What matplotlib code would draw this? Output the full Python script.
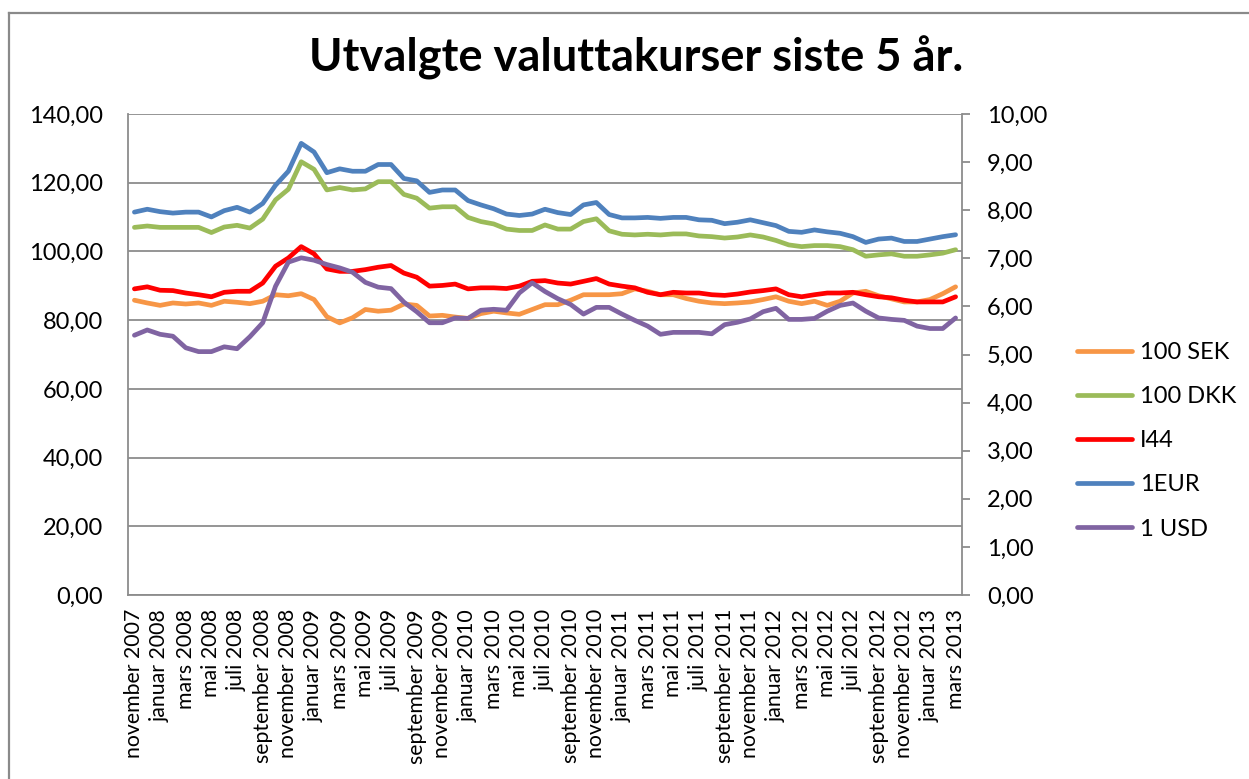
import matplotlib
matplotlib.use("Agg")
import matplotlib.pyplot as plt
from matplotlib.lines import Line2D
import numpy as np

plt.rcParams['font.family'] = ['Lato', 'DejaVu Sans']

tick_labels = ["november 2007", "januar 2008", "mars 2008", "mai 2008", "juli 2008",
               "september 2008", "november 2008", "januar 2009", "mars 2009", "mai 2009",
               "juli 2009", "september 2009", "november 2009", "januar 2010", "mars 2010",
               "mai 2010", "juli 2010", "september 2010", "november 2010", "januar 2011",
               "mars 2011", "mai 2011", "juli 2011", "september 2011", "november 2011",
               "januar 2012", "mars 2012", "mai 2012", "juli 2012", "september 2012",
               "november 2012", "januar 2013", "mars 2013"]

sek = [85.8, 85.0, 84.3, 85.0, 84.7, 85.0, 84.3, 85.5, 85.2, 84.8,
       85.5, 87.4, 87.1, 87.7, 86.0, 81.0, 79.2, 80.7, 83.1, 82.6,
       82.9, 84.7, 84.3, 81.2, 81.4, 80.9, 80.5, 81.9, 82.6, 82.1,
       81.7, 83.1, 84.5, 84.5, 85.8, 87.4, 87.4, 87.4, 87.7, 89.1,
       88.4, 87.4, 87.4, 86.3, 85.5, 85.0, 84.8, 85.0, 85.3, 86.0,
       86.8, 85.5, 84.8, 85.5, 84.3, 85.5, 87.9, 88.4, 87.1, 86.2,
       85.3, 85.3, 86.0, 87.7, 89.7]

dkk = [107.0, 107.4, 107.0, 107.0, 107.0, 107.0, 105.5, 107.1, 107.6, 106.8,
       109.4, 115.0, 118.1, 126.1, 123.9, 117.9, 118.6, 117.9, 118.2, 120.3,
       120.3, 116.6, 115.5, 112.6, 113.0, 113.0, 109.9, 108.7, 108.0, 106.5,
       106.1, 106.1, 107.7, 106.5, 106.5, 108.7, 109.5, 106.0, 105.0, 104.8,
       105.0, 104.8, 105.1, 105.1, 104.5, 104.3, 103.9, 104.2, 104.8, 104.2,
       103.2, 101.9, 101.4, 101.7, 101.7, 101.4, 100.5, 98.6, 99.0, 99.3,
       98.6, 98.6, 99.0, 99.5, 100.5]

i44 = [89.1, 89.7, 88.7, 88.6, 87.9, 87.4, 86.8, 88.1, 88.4, 88.4,
       90.8, 95.7, 98.1, 101.4, 99.3, 94.9, 94.2, 94.2, 94.7, 95.4,
       95.9, 93.7, 92.5, 89.9, 90.1, 90.5, 89.1, 89.4, 89.4, 89.2,
       89.9, 91.3, 91.5, 90.8, 90.5, 91.3, 92.1, 90.5, 89.9, 89.4,
       88.1, 87.4, 88.1, 87.9, 87.9, 87.4, 87.2, 87.6, 88.2, 88.6,
       89.1, 87.4, 86.8, 87.4, 87.9, 87.9, 88.1, 87.4, 86.8, 86.5,
       85.8, 85.3, 85.3, 85.3, 86.8]

eur = [7.96, 8.02, 7.97, 7.94, 7.96, 7.96, 7.86, 7.99, 8.06, 7.96,
       8.14, 8.52, 8.81, 9.39, 9.21, 8.78, 8.86, 8.81, 8.81, 8.95,
       8.95, 8.66, 8.61, 8.37, 8.42, 8.42, 8.20, 8.11, 8.03, 7.92,
       7.89, 7.92, 8.02, 7.95, 7.91, 8.11, 8.16, 7.91, 7.84, 7.84,
       7.85, 7.83, 7.85, 7.85, 7.80, 7.79, 7.72, 7.75, 7.80, 7.74,
       7.68, 7.56, 7.54, 7.59, 7.55, 7.52, 7.45, 7.33, 7.40, 7.42,
       7.35, 7.35, 7.40, 7.45, 7.49]

usd = [5.40, 5.51, 5.42, 5.38, 5.14, 5.06, 5.06, 5.16, 5.12, 5.37,
       5.66, 6.42, 6.92, 7.01, 6.96, 6.87, 6.80, 6.71, 6.50, 6.40,
       6.37, 6.09, 5.89, 5.66, 5.66, 5.76, 5.75, 5.92, 5.94, 5.92,
       6.28, 6.49, 6.31, 6.16, 6.04, 5.84, 5.98, 5.98, 5.84, 5.71,
       5.59, 5.42, 5.46, 5.46, 5.46, 5.43, 5.62, 5.67, 5.74, 5.89,
       5.96, 5.73, 5.73, 5.75, 5.90, 6.02, 6.07, 5.90, 5.76, 5.73,
       5.71, 5.59, 5.54, 5.54, 5.76]

names = ["100 SEK", "100 DKK", "I44", "1EUR", "1 USD"]
colors = ["#F79646", "#9BBB59", "#FF0000", "#4F81BD", "#8064A2"]

W, H = 1249, 779
fig = plt.figure(figsize=(W / 100, H / 100), dpi=100)
fig.patch.set_facecolor("white")

x = np.arange(len(sek))
left_px, right_px, top_px, bot_px = 128, 962, 114, 595
ax = fig.add_axes([left_px / W, 1 - bot_px / H, (right_px - left_px) / W, (bot_px - top_px) / H])
ax2 = ax.twinx()

grid_c = "#8C8C8C"
lw = 3.4
fs = 17

ax.plot(x, sek, color=colors[0], lw=lw, solid_capstyle="round", solid_joinstyle="round", label=names[0])
ax.plot(x, dkk, color=colors[1], lw=lw, solid_capstyle="round", solid_joinstyle="round", label=names[1])
ax.plot(x, i44, color=colors[2], lw=lw, solid_capstyle="round", solid_joinstyle="round", label=names[2])
ax2.plot(x, eur, color=colors[3], lw=lw, solid_capstyle="round", solid_joinstyle="round", label=names[3])
ax2.plot(x, usd, color=colors[4], lw=lw, solid_capstyle="round", solid_joinstyle="round", label=names[4])

ax.set_xlim(-0.5, len(sek) - 0.5)
ax.set_ylim(0, 140)
ax2.set_ylim(0, 10)
ax.set_yticks(np.arange(0, 141, 20))
ax2.set_yticks(np.arange(0, 11, 1))
ax.set_yticklabels([f"{v:.2f}".replace(".", ",") for v in np.arange(0, 141, 20)])
ax2.set_yticklabels([f"{v:.2f}".replace(".", ",") for v in np.arange(0, 11, 1)])

ax.set_xticks(x[::2])
ax.set_xticklabels(tick_labels, rotation=90, va="top", ha="center")

ax.yaxis.grid(True, color=grid_c, lw=1.3)
ax.set_axisbelow(True)
for a in (ax, ax2):
    a.spines["top"].set_visible(False)
    for s in ("left", "right", "bottom"):
        a.spines[s].set_color(grid_c)
        a.spines[s].set_linewidth(1.3)
ax2.spines["left"].set_visible(False)
ax.spines["right"].set_visible(False)
ax2.spines["bottom"].set_visible(False)

ax.tick_params(axis="y", length=0, pad=18, labelsize=fs, colors="black")
ax.tick_params(axis="x", length=0, pad=10, labelsize=15.3, colors="black")
ax2.tick_params(axis="y", length=6, width=1.3, color=grid_c, direction="out", pad=12,
                labelsize=fs, labelcolor="black")

handles = [Line2D([], [], color=c, lw=lw, solid_capstyle="round") for c in colors]
fig.legend(handles, names, loc="upper left", bbox_to_anchor=(1077 / W, 1 - 342 / H),
           frameon=False, fontsize=fs, handlelength=2.35, handletextpad=0.3,
           labelspacing=0.98, borderaxespad=0, borderpad=0)

fig.text(636 / W, 1 - 72 / H, "Utvalgte valuttakurser siste 5 år.", ha="center", va="baseline",
         fontsize=32.5, fontweight="bold", color="black")

border_c = "#8A8A8A"
fig.add_artist(Line2D([9 / W, 9 / W], [0, 1 - 13 / H], color=border_c, lw=1.6, transform=fig.transFigure))
fig.add_artist(Line2D([9 / W, 1], [1 - 13 / H, 1 - 13 / H], color=border_c, lw=1.6, transform=fig.transFigure))

fig.savefig("out.png", dpi=100, facecolor="white")
